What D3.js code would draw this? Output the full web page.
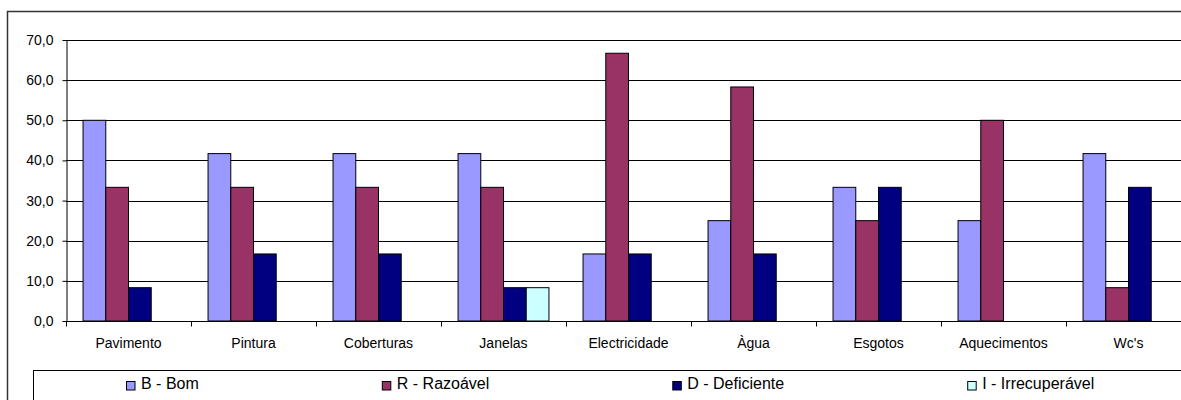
<!DOCTYPE html>
<html>
<head>
<meta charset="utf-8">
<script src="https://cdn.jsdelivr.net/npm/d3@7"></script>
<style>
  html, body { margin: 0; padding: 0; background: #fff; }
  svg { display: block; font-family: "Liberation Sans", Arial, sans-serif; }
</style>
</head>
<body>
<script>
const categories = ["Pavimento", "Pintura", "Coberturas", "Janelas", "Electricidade", "Àgua", "Esgotos", "Aquecimentos", "Wc's"];
const seriesNames = ["B - Bom", "R - Razoável", "D - Deficiente", "I - Irrecuperável"];
const bom = [50.0, 41.7, 41.7, 41.7, 16.7, 25.0, 33.3, 25.0, 41.7];
const razoavel = [33.3, 33.3, 33.3, 33.3, 66.7, 58.3, 25.0, 50.0, 8.3];
const deficiente = [8.3, 16.7, 16.7, 8.3, 16.7, 16.7, 33.3, 0, 33.3];
const irrecuperavel = [0, 0, 0, 8.3, 0, 0, 0, 0, 0];
const yTicks = [0, 10, 20, 30, 40, 50, 60, 70];
const colors = ["#9999FF", "#993366", "#000080", "#CCFFFF"];

const seriesValues = [bom, razoavel, deficiente, irrecuperavel];

const W = 1181, H = 400;
const plot = { left: 66, right: 1191, top: 40, bottom: 321 };

const svg = d3.select("body").append("svg").attr("width", W).attr("height", H);

// outer chart border
svg.append("rect")
  .attr("x", 7.5).attr("y", 11.5)
  .attr("width", 1200).attr("height", 420)
  .attr("fill", "#fff").attr("stroke", "#333").attr("stroke-width", 1.5);

const x0 = d3.scaleBand().domain(categories).range([plot.left, plot.right]).paddingInner(0).paddingOuter(0);
const x1 = d3.scaleBand().domain(seriesNames).range([0, x0.bandwidth()]).paddingInner(0).paddingOuter(0.75);
const y = d3.scaleLinear().domain([0, 70]).range([plot.bottom, plot.top]);

const locale = d3.formatLocale({ decimal: ",", thousands: ".", grouping: [3], currency: ["", "€"] });
const fmt = locale.format(".1f");

// gridlines
svg.append("g").selectAll("line").data(yTicks.filter(d => d > 0)).join("line")
  .attr("x1", plot.left).attr("x2", plot.right)
  .attr("y1", d => Math.round(y(d)) + 0.5).attr("y2", d => Math.round(y(d)) + 0.5)
  .attr("stroke", "#000").attr("stroke-width", 1);

// bars
const data = [];
categories.forEach((c, i) => {
  seriesNames.forEach((s, j) => {
    data.push({ cat: c, series: s, value: seriesValues[j][i], color: colors[j] });
  });
});
svg.append("g").selectAll("rect").data(data.filter(d => d.value > 0)).join("rect")
  .attr("x", d => x0(d.cat) + x1(d.series))
  .attr("y", d => y(d.value))
  .attr("width", x1.bandwidth())
  .attr("height", d => y(0) - y(d.value))
  .attr("fill", d => d.color)
  .attr("stroke", "#000").attr("stroke-width", 1);

// y axis
const yAxis = svg.append("g")
  .attr("transform", `translate(${plot.left + 0.5},0)`)
  .call(d3.axisLeft(y).tickValues(yTicks).tickFormat(fmt).tickSize(4).tickPadding(9).tickSizeOuter(0));
yAxis.selectAll("text").attr("font-size", 14).attr("fill", "#000").attr("font-family", "Liberation Sans, Arial, sans-serif");
yAxis.selectAll("line").attr("stroke", "#000");
yAxis.select(".domain").attr("stroke", "#000");

// x axis line
svg.append("line")
  .attr("x1", plot.left).attr("x2", plot.right)
  .attr("y1", Math.round(y(0)) + 0.5).attr("y2", Math.round(y(0)) + 0.5)
  .attr("stroke", "#000");

// category boundary ticks
const bounds = categories.map(c => x0(c)).concat([x0(categories[categories.length - 1]) + x0.bandwidth()]);
svg.append("g").selectAll("line").data(bounds).join("line")
  .attr("x1", d => Math.round(d) + 0.5).attr("x2", d => Math.round(d) + 0.5)
  .attr("y1", Math.round(y(0))).attr("y2", Math.round(y(0)) + 5.5)
  .attr("stroke", "#000");

// category labels
svg.append("g").selectAll("text").data(categories).join("text")
  .attr("x", d => x0(d) + x0.bandwidth() / 2)
  .attr("y", 348)
  .attr("text-anchor", "middle")
  .attr("font-size", 14)
  .attr("fill", "#000")
  .text(d => d);

// legend
svg.append("rect")
  .attr("x", 33.5).attr("y", 370.5)
  .attr("width", 1200).attr("height", 100)
  .attr("fill", "#fff").attr("stroke", "#000").attr("stroke-width", 1);

const legend = svg.append("g");
let lx = 126;
const gap = 183;
seriesNames.forEach((s, j) => {
  const g = legend.append("g");
  g.append("rect")
    .attr("x", lx + 0.5).attr("y", 381.5)
    .attr("width", 8.5).attr("height", 8.5)
    .attr("fill", colors[j]).attr("stroke", "#000").attr("stroke-width", 1);
  const t = g.append("text")
    .attr("x", lx + 15).attr("y", 389)
    .attr("font-size", 16).attr("fill", "#000")
    .text(s);
  const w = t.node().getComputedTextLength();
  lx = lx + 15 + w + gap;
});
</script>
</body>
</html>
